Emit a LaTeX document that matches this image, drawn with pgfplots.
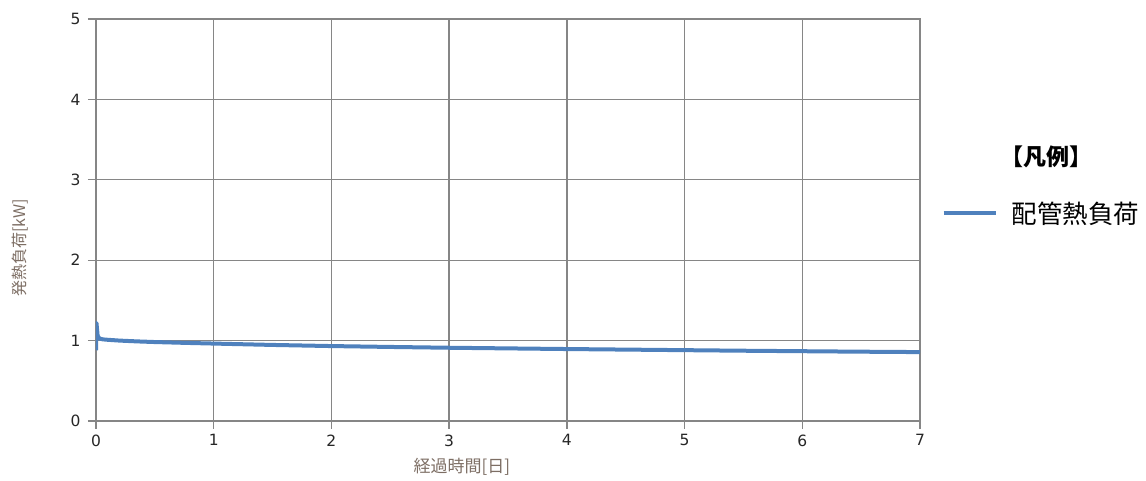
\documentclass[border=0pt]{standalone}
\usepackage{pgfplots}
\pgfplotsset{compat=1.18}
\usepackage{fontspec}
\setmainfont{DejaVu Sans}
\newfontfamily\jp{Noto Sans CJK JP}
\definecolor{lineblue}{RGB}{79,129,189}
\definecolor{gridgray}{RGB}{134,134,134}
\definecolor{labelcol}{RGB}{125,110,100}
\begin{document}
\begin{tikzpicture}
\path[use as bounding box] (0,0) rectangle (1146pt,481pt);
\begin{axis}[
  at={(96pt,60pt)}, anchor=south west,
  scale only axis,
  width=824pt, height=402pt,
  xmin=0, xmax=7, ymin=0, ymax=5,
  xtick={0,1,...,7}, ytick={0,1,...,5},
  grid=major,
  grid style={gridgray, line width=1.3pt},
  axis line style={gridgray, line width=1.3pt},
  tick style={gridgray, line width=1.3pt},
  tick align=outside,
  major tick length=8pt,
  xtick pos=bottom, ytick pos=left,
  /pgf/number format/assume math mode=true,
  ticklabel style={font=\fontsize{15.5}{17}\selectfont, text=black!85},
  xticklabel style={yshift=-2pt},
  yticklabel style={xshift=-4pt},
  xlabel={\jp\fontsize{17}{19}\selectfont 経過時間[日]},
  ylabel={\jp\fontsize{16}{18}\selectfont 発熱負荷[kW]},
  xlabel style={text=labelcol, at={(axis description cs:0.444,0)}, anchor=north, yshift=-34pt},
  ylabel style={text=labelcol, at={(axis description cs:-0.092,0.43)}, anchor=center},
  legend style={at={(axis description cs:1.026,0.517)}, anchor=west, draw=none, fill=none,
    font=\jp\fontsize{25.5}{27}\selectfont, inner sep=0pt},
  legend cell align=left,
  legend image code/.code={\draw[#1, line width=4pt] (0pt,0pt) -- (52pt,0pt);},
]
\addplot[lineblue, line width=4pt, line join=round] coordinates {
(0,0.88) (0.004,1.22) (0.014,1.06) (0.03,1.025) (0.06,1.015) (0.1,1.010) (0.2,1.000)
(0.35,0.990) (0.5,0.982) (0.75,0.972) (1,0.963) (1.5,0.946) (2,0.932) (2.5,0.921)
(3,0.911) (3.5,0.903) (4,0.895) (4.5,0.888) (5,0.881) (5.5,0.874) (6,0.868)
(6.5,0.862) (7,0.857)
};
\addlegendentry{\hspace{12pt}配管熱負荷}
\end{axis}
\node[font=\jp\bfseries\fontsize{23}{25}\selectfont] at (1046pt,324pt) {【凡例】};
\end{tikzpicture}
\end{document}
